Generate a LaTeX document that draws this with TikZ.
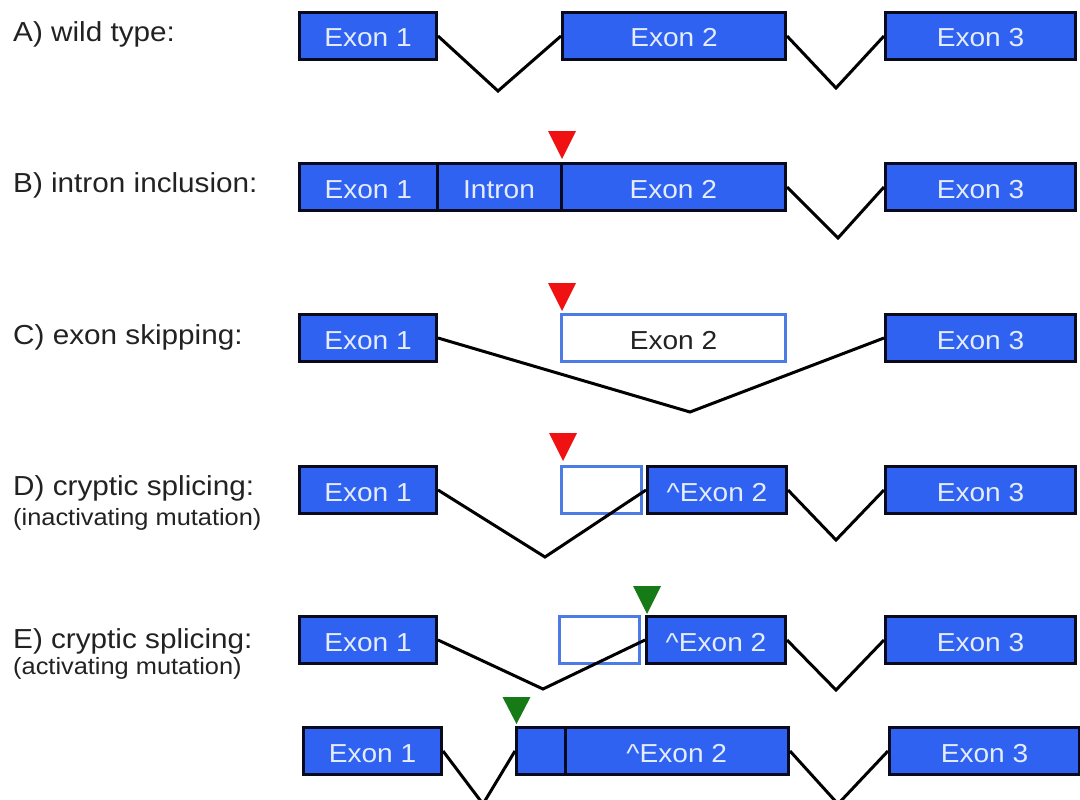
\documentclass[tikz,border=0pt]{standalone}
\usepackage{fontspec}
\setmainfont{Liberation Sans}[FakeStretch=1.08]
\definecolor{exonblue}{HTML}{2F62F0}
\definecolor{exontext}{HTML}{E4ECFF}
\definecolor{boxline}{HTML}{0A0A1E}
\definecolor{ghostline}{HTML}{4D7BE6}
\definecolor{labeltext}{HTML}{222222}
\definecolor{mutred}{HTML}{F01212}
\definecolor{mutgreen}{HTML}{167A16}
\tikzset{
  exon/.style={rectangle, draw=boxline, line width=3pt, fill=exonblue,
    text=exontext, inner sep=0pt, minimum height=47pt,
    text height=22pt, text depth=0pt,
    font=\fontsize{26}{30}\selectfont},
  ghost/.style={rectangle, draw=ghostline, line width=3pt, fill=white,
    text=labeltext, inner sep=0pt, minimum height=47pt,
    text height=22pt, text depth=0pt,
    font=\fontsize{26}{30}\selectfont},
  splice/.style={draw=black, line width=3pt, line join=miter},
  rowlabel/.style={anchor=base west, inner sep=0pt, text=labeltext,
    font=\fontsize{27.5}{32}\selectfont},
  sublabel/.style={anchor=base west, inner sep=0pt, text=labeltext,
    font=\fontsize{23.5}{28}\selectfont},
  redmark/.style={fill=mutred},
  greenmark/.style={fill=mutgreen}
}
\begin{document}
\begin{tikzpicture}[x=1pt, y=-1pt]
\useasboundingbox (0,0) rectangle (1080,800);

% ---------- row labels ----------
\node[rowlabel] (la) at (13,42) {A) wild type:};
\node[rowlabel] (lb) at (13,192) {B) intron inclusion:};
\node[rowlabel] (lc) at (13,344) {C) exon skipping:};
\node[rowlabel] (ld) at (13,495) {D) cryptic splicing:};
\node[sublabel] (ld2) at (13,525) {(inactivating mutation)};
\node[rowlabel] (le) at (13,648) {E) cryptic splicing:};
\node[sublabel] (le2) at (13,674) {(activating mutation)};

% ---------- A) wild type ----------
\node[exon, minimum width=137pt] (a1) at (368,36) {Exon 1};
\node[exon, minimum width=223pt] (a2) at (674,36) {Exon 2};
\node[exon, minimum width=190pt] (a3) at (980.5,36) {Exon 3};
\coordinate (av1) at (498,91);
\coordinate (av2) at (836,88);
\draw[splice] (a1.east) -- (av1) -- (a2.west);
\draw[splice] (a2.east) -- (av2) -- (a3.west);

% ---------- B) intron inclusion ----------
\node[exon, minimum width=137.5pt] (b1) at (368.25,187) {Exon 1};
\node[exon, minimum width=124pt] (bi) at (499,187) {Intron};
\node[exon, minimum width=224.5pt] (b2) at (673.25,187) {Exon 2};
\node[exon, minimum width=190pt] (b3) at (980.5,187) {Exon 3};
\coordinate (bv2) at (838,238);
\draw[splice] (b2.east) -- (bv2) -- (b3.west);
\coordinate (bm) at (562,159);
\fill[redmark] (bm) -- ++(-14,-28) -- ++(28,0) -- cycle;

% ---------- C) exon skipping ----------
\node[exon, minimum width=137pt] (c1) at (368,338) {Exon 1};
\node[ghost, minimum width=224pt] (c2) at (673.5,338) {Exon 2};
\node[exon, minimum width=190pt] (c3) at (980.5,338) {Exon 3};
\coordinate (cv) at (690,412);
\draw[splice] (c1.east) -- (cv) -- (c3.west);
\coordinate (cm) at (562,311);
\fill[redmark] (cm) -- ++(-14,-28) -- ++(28,0) -- cycle;

% ---------- D) cryptic splicing, inactivating ----------
\node[exon, minimum width=137pt] (d1) at (368,490) {Exon 1};
\node[ghost, minimum width=79.5pt] (dg) at (601.25,490) {};
\node[exon, minimum width=139pt] (d2) at (717,490) {\textasciicircum Exon 2};
\node[exon, minimum width=190pt] (d3) at (980.5,490) {Exon 3};
\coordinate (dv1) at (545,557);
\coordinate (dv2) at (836,540);
\draw[splice] (d1.east) -- (dv1) -- (d2.west);
\draw[splice] (d2.east) -- (dv2) -- (d3.west);
\coordinate (dm) at (563,461);
\fill[redmark] (dm) -- ++(-14,-28) -- ++(28,0) -- cycle;

% ---------- E) cryptic splicing, activating ----------
\node[exon, minimum width=137pt] (e1) at (368,640) {Exon 1};
\node[ghost, minimum width=80pt] (eg) at (599.5,640) {};
\node[exon, minimum width=139pt] (e2) at (716,640) {\textasciicircum Exon 2};
\node[exon, minimum width=190pt] (e3) at (980.5,640) {Exon 3};
\coordinate (ev1) at (543,689);
\coordinate (ev2) at (836,690);
\draw[splice] (e1.east) -- (ev1) -- (e2.west);
\draw[splice] (e2.east) -- (ev2) -- (e3.west);
\coordinate (em) at (647,614);
\fill[greenmark] (em) -- ++(-14,-28) -- ++(28,0) -- cycle;

% ---------- E) resulting transcript ----------
\node[exon, minimum width=138pt] (f1) at (372.5,751) {Exon 1};
\node[exon, minimum width=48.5pt] (fx) at (540.75,751) {};
\node[exon, minimum width=223.5pt] (f2) at (676.75,751) {\textasciicircum Exon 2};
\node[exon, minimum width=190pt] (f3) at (984.5,751) {Exon 3};
\coordinate (fv1) at (483,804);
\coordinate (fv2) at (838,804);
\draw[splice] (f1.east) -- (fv1) -- (fx.west);
\draw[splice] (f2.east) -- (fv2) -- (f3.west);
\coordinate (fm) at (516.5,724);
\fill[greenmark] (fm) -- ++(-14,-27) -- ++(28,0) -- cycle;
\end{tikzpicture}
\end{document}
